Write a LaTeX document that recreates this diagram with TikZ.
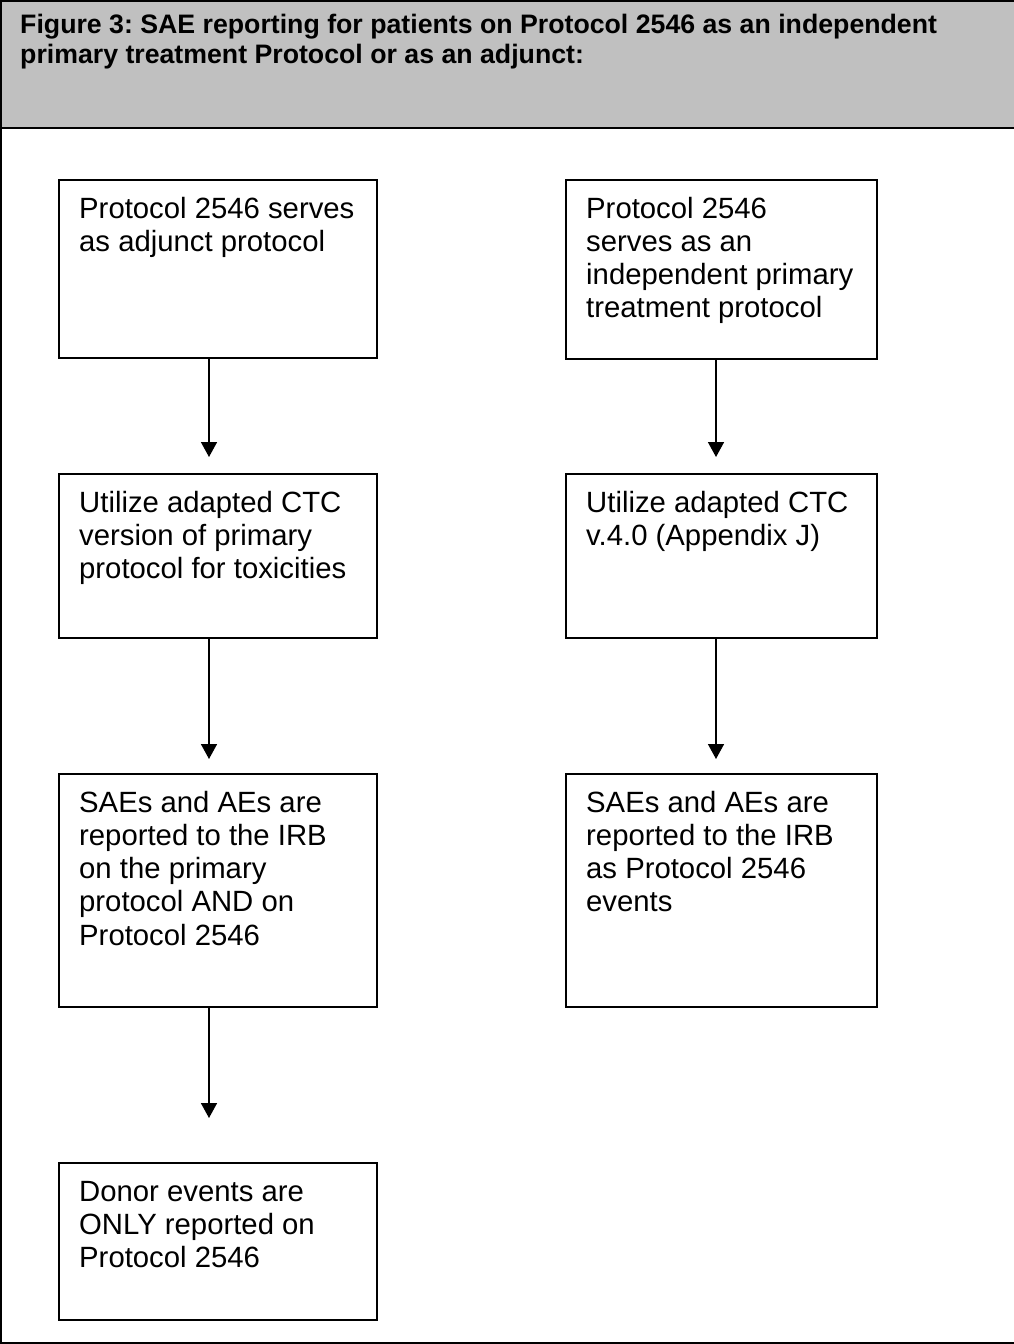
\documentclass[tikz,border=0pt]{standalone}
\usepackage{fontspec}
\setmainfont{Liberation Sans}
\usetikzlibrary{arrows.meta,calc}
\definecolor{hdrgray}{HTML}{C0C0C0}
\frenchspacing
\begin{document}
\begin{tikzpicture}[x=1pt,y=-1pt,
  frame/.style={draw=black, line width=2pt},
  boxnode/.style={draw=black, line width=2pt, anchor=north west, inner sep=0pt, minimum width=318pt},
  arr/.style={draw=black, line width=1.6pt, -{Triangle[width=16pt,length=15pt]}},
  lbl/.style={anchor=base west, inner sep=0pt, font=\fontsize{29.3}{33.3}\selectfont}
]
\useasboundingbox (0,0) rectangle (1013,1344);
% header and frame
\fill[hdrgray] (1,1) rectangle (1030,128);
\draw[frame] (1,1) rectangle (1030,1343);
\draw[frame] (1,128) -- (1030,128);
\node[anchor=base west, inner sep=0pt, font=\bfseries\fontsize{26.7}{30.5}\selectfont] (title) at (20,33)
  {\begin{minipage}[t]{1000pt}\frenchspacing\raggedright Figure 3: SAE reporting for patients on Protocol 2546 as an independent\\primary treatment Protocol or as an adjunct:\end{minipage}};
% left column boxes
\node[boxnode, minimum height=178pt] (l1) at (58,179) {};
\node[boxnode, minimum height=164pt] (l2) at (58,473) {};
\node[boxnode, minimum height=233pt] (l3) at (58,773) {};
\node[boxnode, minimum height=157pt] (l4) at (58,1162) {};
% right column boxes
\node[boxnode, minimum width=311pt, minimum height=179pt] (r1) at (565,179) {};
\node[boxnode, minimum width=311pt, minimum height=164pt] (r2) at (565,473) {};
\node[boxnode, minimum width=311pt, minimum height=233pt] (r3) at (565,773) {};
% texts
\node[lbl] (tl1) at ($(l1.north west)+(21,39)$) {\begin{minipage}[t]{340pt}\raggedright Protocol 2546 serves\\as adjunct protocol\end{minipage}};
\node[lbl] (tl2) at ($(l2.north west)+(21,39)$) {\begin{minipage}[t]{340pt}\raggedright Utilize adapted CTC\\version of primary\\protocol for toxicities\end{minipage}};
\node[lbl] (tl3) at ($(l3.north west)+(21,39)$) {\begin{minipage}[t]{340pt}\raggedright SAEs and AEs are\\reported to the IRB\\on the primary\\protocol AND on\\Protocol 2546\end{minipage}};
\node[lbl] (tl4) at ($(l4.north west)+(21,39)$) {\begin{minipage}[t]{340pt}\raggedright Donor events are\\ONLY reported on\\Protocol 2546\end{minipage}};
\node[lbl] (tr1) at ($(r1.north west)+(21,39)$) {\begin{minipage}[t]{340pt}\raggedright Protocol 2546\\serves as an\\independent primary\\treatment protocol\end{minipage}};
\node[lbl] (tr2) at ($(r2.north west)+(21,39)$) {\begin{minipage}[t]{340pt}\raggedright Utilize adapted CTC\\v.4.0 (Appendix J)\end{minipage}};
\node[lbl] (tr3) at ($(r3.north west)+(21,39)$) {\begin{minipage}[t]{340pt}\raggedright SAEs and AEs are\\reported to the IRB\\as Protocol 2546\\events\end{minipage}};
% connectors
\coordinate (xl) at (209,0);
\coordinate (xr) at (716,0);
\draw[arr, shorten >=16pt] (l1.south -| xl) -- (l2.north -| xl);
\draw[arr, shorten >=14pt] (l2.south -| xl) -- (l3.north -| xl);
\draw[arr, shorten >=44pt] (l3.south -| xl) -- (l4.north -| xl);
\draw[arr, shorten >=16pt] (r1.south -| xr) -- (r2.north -| xr);
\draw[arr, shorten >=14pt] (r2.south -| xr) -- (r3.north -| xr);
\end{tikzpicture}
\end{document}
